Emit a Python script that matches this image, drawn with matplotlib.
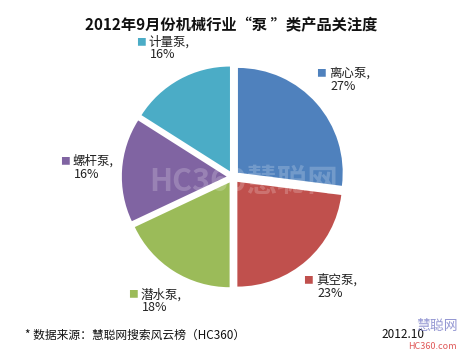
import numpy as np
import matplotlib
matplotlib.use("Agg")
import matplotlib.pyplot as plt
from matplotlib.offsetbox import TextArea, HPacker, VPacker, AnnotationBbox

plt.rcParams['font.family'] = ['Noto Sans CJK SC', 'DejaVu Sans']

categories = ["离心泵", "真空泵", "潜水泵", "螺杆泵", "计量泵"]
values = [27, 23, 18, 16, 16]
colors = ["#4F81BD", "#C0504D", "#9BBB59", "#8064A2", "#4BACC6"]
title = "2012年9月份机械行业“泵 ”类产品关注度"
source = "* 数据来源：慧聪网搜索风云榜（HC360）"
date_text = "2012.10"

fig = plt.figure(figsize=(4.62, 3.59), dpi=100)
fig.patch.set_facecolor("white")

fig.text(0.5, 0.93, title, ha="center", va="center", fontsize=11, fontweight="bold", color="#111111")

ax = fig.add_axes([0.224, 0.146, 0.561, 0.722])
explode = [0.06] * len(values)
wedges, _ = ax.pie(values, colors=colors, startangle=90, counterclock=False,
                   explode=explode, radius=0.97,
                   wedgeprops=dict(linewidth=0))
ax.set_xlim(-1.2, 1.2)
ax.set_ylim(-1.2, 1.2)
ax.set_aspect("equal")
ax.axis("off")

total = sum(values)
for w, name, v, c in zip(wedges, categories, values, colors):
    mid = np.deg2rad((w.theta1 + w.theta2) / 2)
    r = 1.36
    x, y = r * np.cos(mid), r * np.sin(mid)
    sq = TextArea("■", textprops=dict(color=c, fontsize=7))
    nm = TextArea(name + ",", textprops=dict(color="#222222", fontsize=9))
    line1 = HPacker(children=[sq, nm], align="center", pad=0, sep=2)
    line2 = TextArea(f"{round(100 * v / total)}%", textprops=dict(color="#222222", fontsize=9))
    box = VPacker(children=[line1, line2], align="center", pad=0, sep=0)
    ab = AnnotationBbox(box, (x, y), frameon=False, box_alignment=(0.5, 0.5),
                        annotation_clip=False)
    ax.add_artist(ab)

# faint watermark
ax.text(0.1, -0.05, "HC360慧聪网", ha="center", va="center", fontsize=22,
        fontweight="bold", style="italic", color="white", alpha=0.2)

fig.text(0.055, 0.067, source, ha="left", va="center", fontsize=8.5, color="#111111")
fig.text(0.825, 0.067, date_text, ha="left", va="center", fontsize=8.5, color="#111111")
fig.text(0.945, 0.092, "慧聪网", ha="center", va="center", fontsize=10, color="#7B7FC8", alpha=0.8)
fig.text(0.935, 0.035, "HC360.com", ha="center", va="center", fontsize=6.5, color="#E05A5A", style="italic")

fig.savefig("out.png", dpi=100, facecolor="white")
